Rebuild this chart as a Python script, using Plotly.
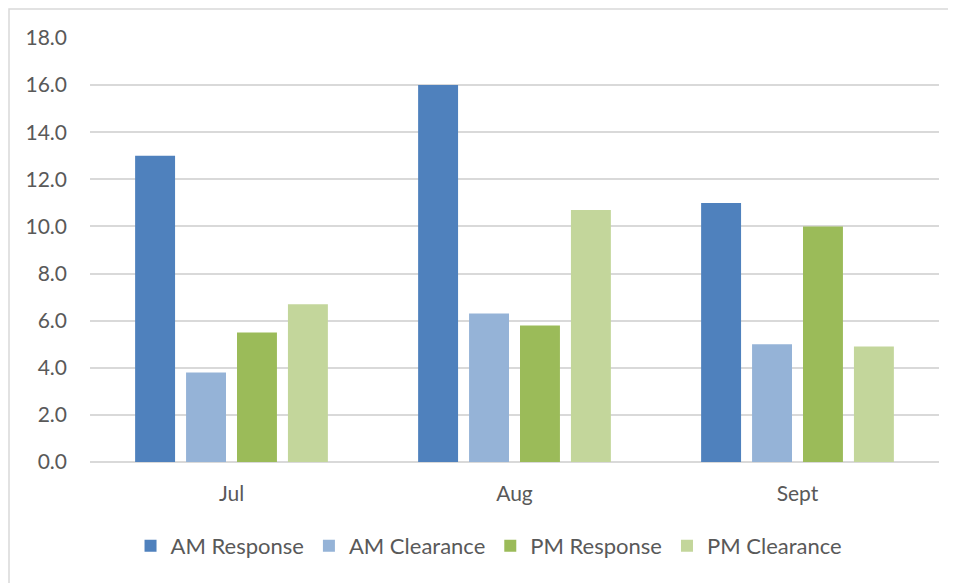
import plotly.graph_objects as go

categories = ["Jul", "Aug", "Sept"]
am_response = [13.0, 16.0, 11.0]
am_clearance = [3.8, 6.3, 5.0]
pm_response = [5.5, 5.8, 10.0]
pm_clearance = [6.7, 10.7, 4.9]
tick_vals = [0, 2, 4, 6, 8, 10, 12, 14, 16, 18]
tick_text = [f"{v:.1f}" for v in tick_vals]

series = [
    ("AM Response", am_response, "#4F81BD"),
    ("AM Clearance", am_clearance, "#95B3D7"),
    ("PM Response", pm_response, "#9BBB59"),
    ("PM Clearance", pm_clearance, "#C3D69B"),
]

fig = go.Figure()
for name, vals, col in series:
    fig.add_trace(go.Bar(x=categories, y=vals, name=name, marker_color=col,
                         marker_line_width=0))

# page body has an 8px margin
W, H = 948, 575
L, R, T = 82, 17, 30
ph = 424
B = H - T - ph
pw = W - L - R

font = "Lato"
fig.update_layout(
    width=W, height=H,
    margin=dict(l=L, r=R, t=T, b=B, pad=0),
    paper_bgcolor="white", plot_bgcolor="white",
    barmode="group", bargap=0.28, bargroupgap=0.216,
    font=dict(family=font, size=22, color="#595959"),
    showlegend=True,
    legend=dict(orientation="h", x=0.47, xanchor="center", y=-0.198, yanchor="middle",
                font=dict(size=22, color="#595959"), itemwidth=30,
                traceorder="normal"),
    xaxis=dict(showgrid=False, showline=False, ticks="", tickfont=dict(size=21),
               ticklabelstandoff=17),
    yaxis=dict(range=[0, 18], tickvals=tick_vals, ticktext=tick_text,
               showgrid=True, gridcolor="#D9D9D9", gridwidth=1.5,
               zeroline=True, zerolinecolor="#D9D9D9", zerolinewidth=1.5,
               showline=False, ticks="", tickfont=dict(size=21),
               ticklabelstandoff=22),
    shapes=[dict(type="rect", xref="paper", yref="paper",
                 x0=(1 - L) / pw, x1=(W + 20 - L) / pw,
                 y0=(T + ph - (H + 20)) / ph, y1=(T + ph - 1) / ph,
                 line=dict(color="#D9D9D9", width=1.5), layer="below")],
)

fig.write_html("out.html")
